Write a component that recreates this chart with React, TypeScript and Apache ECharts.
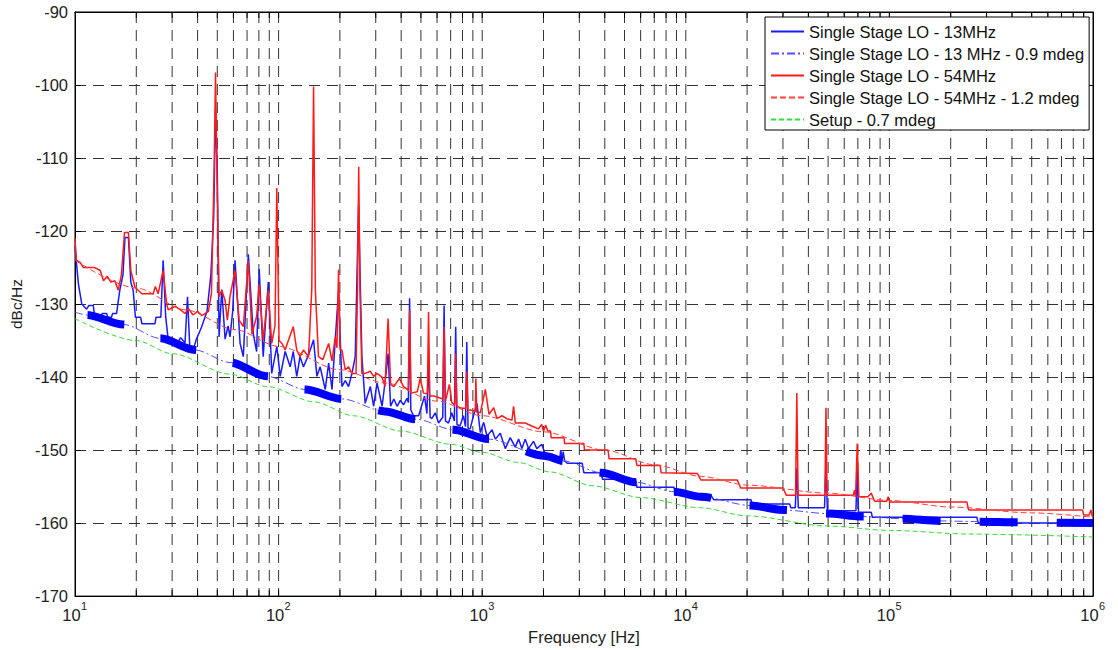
import React, { useEffect, useRef } from "react";
import * as echarts from "echarts";

const FONT = '"Liberation Sans", Arial, Helvetica, sans-serif';
const TEXT = "#222";

// Axis ranges / ticks
const freqMin = 10;
const freqMax = 1000000;
const dbMin = -170;
const dbMax = -90;
const dbStep = 10;
const decadeStarts = [10, 100, 1000, 10000, 100000];
const gridMultipliers = [1, 2, 3, 4, 5, 6, 7, 8, 9];

const seriesNames = [
  "Single Stage LO - 13MHz",
  "Single Stage LO - 13 MHz - 0.9 mdeg",
  "Single Stage LO - 54MHz",
  "Single Stage LO - 54MHz - 1.2 mdeg",
  "Setup - 0.7 mdeg",
];

// Measured: Single Stage LO - 13MHz  [Hz, dBc/Hz]
const lo13Measured: [number, number][] = [
  [10, -122.0], [10.2, -124.8], [10.4, -127.3], [10.8, -130.0], [11.4, -130.7], [11.7, -130.2],
  [12.3, -130.2], [12.5, -131.8], [13.4, -131.8], [13.6, -131.3], [14.3, -131.3], [14.5, -131.8],
  [15.1, -131.8], [15.3, -131.3], [16.0, -131.3], [16.6, -128.1], [17.2, -126.0], [17.6, -120.9],
  [18.3, -120.9], [18.8, -127.0], [19.3, -128.1], [19.8, -131.8], [21.0, -131.8], [21.3, -132.7],
  [24.7, -132.7], [25.0, -131.8], [26.4, -131.8], [27.1, -124.0], [27.9, -131.8], [28.7, -134.9],
  [30.5, -134.9], [31.5, -135.6], [33.0, -134.6], [34.7, -135.3], [35.7, -129.0], [36.6, -135.8],
  [38.5, -135.8], [39.5, -134.8], [41.9, -133.1], [44.5, -131.0], [46.5, -126.0], [48.0, -118.0],
  [49.0, -103.5], [50.0, -112.0], [51.0, -134.5], [52.6, -128.0], [54.6, -134.8], [56.5, -133.0],
  [57.7, -134.5], [59.5, -131.0], [61.1, -124.0], [64.7, -135.4], [67.1, -137.2], [71.0, -123.2],
  [75.1, -134.1], [78.0, -136.5], [80.3, -125.2], [84.0, -137.2], [89.0, -127.0], [92.5, -139.5],
  [98.0, -135.8], [101.8, -139.9], [107.7, -136.5], [114.0, -138.6], [118.0, -136.5], [122.8, -139.9],
  [127.4, -137.2], [132.4, -138.6], [140.2, -137.0], [148.5, -134.9], [154.2, -139.9], [160.0, -138.6],
  [169.5, -141.7], [176.1, -138.1], [183.0, -141.7], [189.8, -134.9], [197.0, -128.1], [204.7, -141.3],
  [212.5, -140.5], [220.7, -141.3], [229.2, -139.5], [237.9, -137.2], [247.0, -116.4], [256.5, -137.2],
  [266.2, -143.6], [282.2, -141.3], [293.0, -144.0], [304.3, -140.8], [322.3, -144.0], [333.0, -140.8],
  [345.0, -136.8], [355.0, -144.0], [368.0, -143.0], [382.0, -144.0], [396.0, -143.2], [411.0, -143.8],
  [427.0, -142.9], [434.0, -143.5], [440.0, -129.2], [446.0, -144.5], [460.0, -145.3], [487.0, -145.3],
  [521.0, -142.6], [535.0, -145.0], [545.0, -137.5], [555.0, -145.5], [566.0, -145.7], [588.0, -144.9],
  [610.0, -146.3], [640.0, -145.5], [650.0, -130.2], [660.0, -146.0], [683.0, -146.3], [709.0, -144.9],
  [730.0, -146.0], [741.0, -133.1], [752.0, -146.5], [778.0, -146.7], [808.0, -145.3], [828.0, -146.8],
  [840.0, -135.2], [852.0, -147.0], [873.0, -147.1], [906.0, -145.3], [942.0, -143.6], [979.0, -147.6],
  [1017, -146.2], [1056, -148.1], [1118, -147.2], [1160, -148.5], [1227, -147.7], [1298, -149.8],
  [1373, -148.3], [1453, -149.6], [1509, -148.5], [1567, -149.8], [1627, -148.5], [1689, -149.8],
  [1786, -148.8], [1854, -149.8], [1961, -149.2], [2036, -150.5], [2166, -150.8], [2400, -151.2],
  [2431, -150.0], [2470, -151.3], [2500, -150.2], [2540, -151.5], [2617, -151.8], [3097, -151.8],
  [3157, -153.1], [3837, -153.1], [3900, -154.0], [5680, -154.0], [5750, -155.1], [8750, -155.1],
  [8900, -155.9], [11850, -156.2], [13300, -156.2], [13700, -156.8], [20900, -156.8], [21200, -157.4],
  [32400, -157.4], [32800, -157.9], [34500, -157.9], [35100, -152.5], [35700, -157.9], [48000, -157.9],
  [48800, -152.1], [49600, -158.3], [68500, -158.3], [69500, -152.3], [70500, -158.5], [81400, -158.5],
  [82500, -159.2], [269000, -159.2], [273000, -160.0], [1000000, -160.0],
];

// Model: Single Stage LO - 13 MHz - 0.9 mdeg
const lo13Model: [number, number][] = [
  [10, -131.1], [11.4, -131.5], [17.3, -132.8], [26.2, -134.7], [38.9, -136.3], [57.7, -138.0],
  [87.8, -139.9], [135, -141.7], [205, -143.0], [333, -144.7], [478, -145.8], [720, -147.2],
  [1070, -148.5], [2040, -150.8], [2520, -151.5], [3840, -153.1], [5680, -154.4], [8750, -155.7],
  [11850, -156.4], [20900, -157.6], [30000, -158.2], [49800, -158.7], [72700, -159.1], [115000, -159.4],
  [177000, -159.7], [277000, -159.8], [430000, -159.9], [1000000, -160.0],
];

// Measured: Single Stage LO - 54MHz
const lo54Measured: [number, number][] = [
  [10, -121.0], [10.15, -124.0], [10.6, -124.3], [11.0, -125.0], [12.5, -125.0], [13.3, -125.4],
  [13.8, -126.8], [14.4, -126.2], [15.0, -127.0], [15.7, -126.8], [16.3, -128.1], [16.9, -126.0],
  [17.5, -120.2], [18.3, -120.2], [18.8, -125.4], [19.7, -127.7], [21.3, -128.6], [24.2, -128.6],
  [24.8, -127.6], [25.6, -128.6], [27.1, -125.4], [28.2, -130.0], [28.7, -130.8], [31.0, -130.3],
  [33.0, -130.8], [34.7, -131.3], [36.0, -130.6], [38.0, -131.5], [40.0, -131.0], [42.0, -131.6],
  [45.2, -131.0], [46.8, -128.5], [48.2, -112.0], [49.0, -98.3], [49.8, -112.0], [51.0, -129.0],
  [52.6, -128.1], [54.6, -129.5], [56.0, -132.2], [57.7, -129.0], [61.1, -125.4], [64.0, -132.2],
  [67.1, -133.1], [71.0, -124.1], [74.0, -134.1], [78.0, -131.7], [80.3, -127.3], [84.0, -134.9],
  [89.0, -128.1], [92.5, -135.4], [96.0, -133.0], [98.0, -114.1], [100.5, -135.0], [104.0, -135.4],
  [107.7, -136.3], [111.0, -135.2], [118.0, -133.1], [122.8, -136.3], [127.4, -137.2], [132.4, -136.3],
  [140.2, -137.2], [145.5, -128.0], [148.5, -100.2], [151.5, -128.0], [157.0, -137.2], [165.0, -137.6],
  [176.1, -135.4], [183.0, -137.8], [189.8, -134.5], [193.5, -136.0], [197.0, -125.3], [200.5, -136.3],
  [204.7, -136.3], [212.5, -139.0], [220.7, -138.6], [229.0, -139.5], [240.0, -139.5], [244.0, -128.0],
  [247.5, -111.2], [251.0, -128.0], [256.5, -139.5], [266.2, -139.5], [282.0, -139.2], [293.0, -139.9],
  [304.0, -139.5], [322.0, -140.0], [333.0, -141.3], [345.0, -132.0], [355.0, -141.0], [368.0, -141.3],
  [392.0, -140.2], [411.0, -141.3], [433.0, -141.8], [440.0, -130.8], [447.0, -142.2], [480.0, -142.0],
  [496.0, -140.2], [515.0, -142.2], [538.0, -142.3], [545.0, -131.1], [553.0, -142.6], [580.0, -142.6],
  [610.0, -142.8], [640.0, -143.0], [650.0, -133.1], [660.0, -143.3], [690.0, -141.0], [709.0, -143.5],
  [734.0, -143.8], [741.0, -136.8], [750.0, -144.0], [778.0, -144.2], [830.0, -144.3], [840.0, -139.2],
  [850.0, -144.5], [873.0, -144.5], [925.0, -144.7], [931.0, -140.2], [940.0, -144.8], [979.0, -144.9],
  [1036, -141.7], [1080, -145.1], [1139, -144.2], [1182, -145.7], [1251, -145.3], [1323, -145.7],
  [1400, -145.9], [1426, -144.0], [1455, -146.3], [1627, -146.3], [1753, -146.7], [1890, -147.1],
  [1960, -146.5], [2000, -147.4], [2050, -146.6], [2100, -147.4], [2166, -147.4], [2180, -148.3],
  [2522, -148.3], [2540, -149.1], [3157, -149.1], [3180, -150.0], [4150, -150.0], [4200, -151.2],
  [5680, -151.2], [5750, -152.1], [7490, -152.1], [7560, -153.1], [11400, -153.2], [11850, -154.1],
  [17900, -154.1], [18600, -155.2], [30000, -155.2], [31200, -156.2], [34600, -156.2], [35100, -142.2],
  [35600, -156.2], [48200, -156.2], [48800, -144.2], [49400, -156.2], [66500, -156.2], [67400, -155.5],
  [68200, -156.4], [69500, -149.1], [70800, -156.4], [78400, -156.4], [81400, -155.9], [84600, -157.0],
  [97000, -157.0], [98600, -156.4], [100500, -157.1], [240000, -157.1], [245000, -158.2], [888000, -158.2],
  [900000, -158.9], [958000, -158.9], [977000, -158.2], [990000, -159.0], [1000000, -159.2],
];

// Model: Single Stage LO - 54MHz - 1.2 mdeg
const lo54Model: [number, number][] = [
  [10, -124.0], [20, -127.8], [35, -130.8], [61, -133.5], [100, -135.8], [200, -139.0],
  [333, -140.8], [600, -143.3], [1000, -145.3], [2000, -147.5], [4000, -150.0], [7000, -152.0],
  [11850, -153.6], [20000, -154.8], [49600, -155.9], [100000, -156.9], [200000, -157.8],
  [500000, -158.6], [1000000, -159.2],
];

// Model: Setup - 0.7 mdeg
const setupModel: [number, number][] = [
  [10, -132.0], [20, -135.0], [30, -136.8], [57.7, -139.6], [88, -141.3], [150, -143.4],
  [233, -145.3], [400, -147.4], [700, -149.2], [1000, -150.3], [1500, -151.7], [2158, -153.0],
  [3500, -154.9], [6000, -156.5], [11800, -157.9], [20000, -159.0], [49600, -160.4],
  [100000, -161.0], [250000, -161.5], [1000000, -161.9],
];

const gridFreqs: number[] = decadeStarts
  .flatMap((d) => gridMultipliers.map((m) => m * d))
  .filter((f) => f > freqMin && f < freqMax);

function buildOption(): any {
  const logAxisBase = {
    type: "log",
    logBase: 10,
    min: freqMin,
    max: freqMax,
    splitLine: { show: false },
    axisTick: { show: false },
  };
  const valueAxisBase = {
    type: "value",
    min: dbMin,
    max: dbMax,
    interval: dbStep,
  };
  const lineBase = { type: "line", showSymbol: false, symbol: "none" };
  return {
    animation: false,
    backgroundColor: "#fff",
    textStyle: { fontFamily: FONT },
    grid: {
      left: 75,
      right: 25,
      top: 12,
      bottom: 48,
      show: true,
      borderColor: "#000",
      borderWidth: 1,
      backgroundColor: "#fff",
    },
    legend: {
      data: seriesNames,
      orient: "vertical",
      left: 765,
      top: 17,
      itemWidth: 33,
      itemHeight: 14,
      itemGap: 5,
      padding: [6, 5, 2, 5],
      backgroundColor: "#fff",
      borderColor: "#000",
      borderWidth: 1,
      borderRadius: 0,
      selectedMode: false,
      itemStyle: { opacity: 0 },
      textStyle: { fontFamily: FONT, fontSize: 16.5, color: "#111" },
    },
    xAxis: [
      {
        ...logAxisBase,
        position: "bottom",
        axisLine: { show: true, lineStyle: { color: "#000", width: 1 } },
        axisLabel: {
          formatter: () => "10",
          fontFamily: FONT,
          fontSize: 16.5,
          color: TEXT,
          margin: 10,
          padding: [0, 7, 0, 0],
        },
        name: "Frequency [Hz]",
        nameLocation: "middle",
        nameGap: 26,
        nameTextStyle: { fontFamily: FONT, fontSize: 16.5, color: TEXT },
      },
      {
        ...logAxisBase,
        position: "top",
        axisLine: { show: true, lineStyle: { color: "#000", width: 1 } },
        axisLabel: { show: false },
      },
      {
        ...logAxisBase,
        position: "bottom",
        axisLine: { show: false },
        axisLabel: {
          formatter: (v: number) => String(Math.round(Math.log10(v))),
          fontFamily: FONT,
          fontSize: 11,
          color: TEXT,
          align: "left",
          margin: 4,
          padding: [0, 0, 0, 6],
        },
      },
    ],
    yAxis: [
      {
        ...valueAxisBase,
        position: "left",
        axisLine: { show: true, lineStyle: { color: "#000", width: 1 } },
        axisTick: { show: true, inside: true, length: 6, lineStyle: { color: "#000" } },
        axisLabel: { fontFamily: FONT, fontSize: 16.5, color: TEXT, margin: 7 },
        splitLine: { show: true, lineStyle: { color: "#333", width: 1, type: [11, 7] } },
        name: "dBc/Hz",
        nameLocation: "middle",
        nameGap: 41,
        nameTextStyle: { fontFamily: FONT, fontSize: 15.5, color: TEXT },
      },
      {
        ...valueAxisBase,
        position: "right",
        axisLine: { show: true, lineStyle: { color: "#000", width: 1 } },
        axisTick: { show: true, inside: true, length: 6, lineStyle: { color: "#000" } },
        axisLabel: { show: false },
        splitLine: { show: false },
      },
    ],
    series: [
      {
        type: "custom",
        name: "grid",
        silent: true,
        z: 1,
        clip: false,
        xAxisIndex: 0,
        yAxisIndex: 0,
        data: gridFreqs.map((f) => [f, dbMin]),
        encode: { x: 0, y: 1 },
        renderItem: (_params: any, api: any) => {
          const f = api.value(0);
          const top = api.coord([f, dbMax]);
          const bot = api.coord([f, dbMin]);
          const x = top[0];
          return {
            type: "group",
            children: [
              {
                type: "line",
                shape: { x1: x, y1: top[1], x2: x, y2: bot[1] },
                style: { stroke: "#333", lineWidth: 1, lineDash: [11, 7] },
              },
              {
                type: "line",
                shape: { x1: x, y1: bot[1], x2: x, y2: bot[1] - 6 },
                style: { stroke: "#000", lineWidth: 1 },
              },
              {
                type: "line",
                shape: { x1: x, y1: top[1], x2: x, y2: top[1] + 6 },
                style: { stroke: "#000", lineWidth: 1 },
              },
            ],
          };
        },
      },
      {
        ...lineBase,
        name: seriesNames[0],
        data: lo13Measured,
        z: 3,
        lineStyle: { color: "#1a1aff", width: 1.5 },
        itemStyle: { color: "#1a1aff" },
      },
      {
        ...lineBase,
        name: seriesNames[1],
        data: lo13Model,
        smooth: 0.3,
        smoothMonotone: "x",
        z: 4,
        lineStyle: { color: "#4d4dff", width: 1, type: [8, 3, 2, 3] },
        itemStyle: { color: "#4d4dff" },
      },
      {
        ...lineBase,
        name: "thick-dash",
        data: lo13Model,
        smooth: 0.3,
        smoothMonotone: "x",
        z: 4,
        lineStyle: { color: "#0000ff", width: 8, type: [38, 39], dashOffset: 64, cap: "butt" },
        itemStyle: { color: "#0000ff" },
      },
      {
        ...lineBase,
        name: seriesNames[2],
        data: lo54Measured,
        z: 5,
        lineStyle: { color: "#ff1a1a", width: 1.5 },
        itemStyle: { color: "#ff1a1a" },
      },
      {
        ...lineBase,
        name: seriesNames[3],
        data: lo54Model,
        smooth: 0.3,
        smoothMonotone: "x",
        z: 6,
        lineStyle: { color: "#ff4040", width: 1, type: [6, 3] },
        itemStyle: { color: "#ff4040" },
      },
      {
        ...lineBase,
        name: seriesNames[4],
        data: setupModel,
        smooth: 0.3,
        smoothMonotone: "x",
        z: 6,
        lineStyle: { color: "#33dd33", width: 1, type: [5, 3] },
        itemStyle: { color: "#33dd33" },
      },
    ],
  };
}

export default function App() {
  const ref = useRef<HTMLDivElement>(null);
  useEffect(() => {
    document.body.style.margin = "0";
    if (!ref.current) return;
    const chart = echarts.init(ref.current, null, { renderer: "svg" });
    chart.setOption(buildOption());
    return () => chart.dispose();
  }, []);
  return <div ref={ref} style={{ width: 1118, height: 650, background: "#fff" }} />;
}
